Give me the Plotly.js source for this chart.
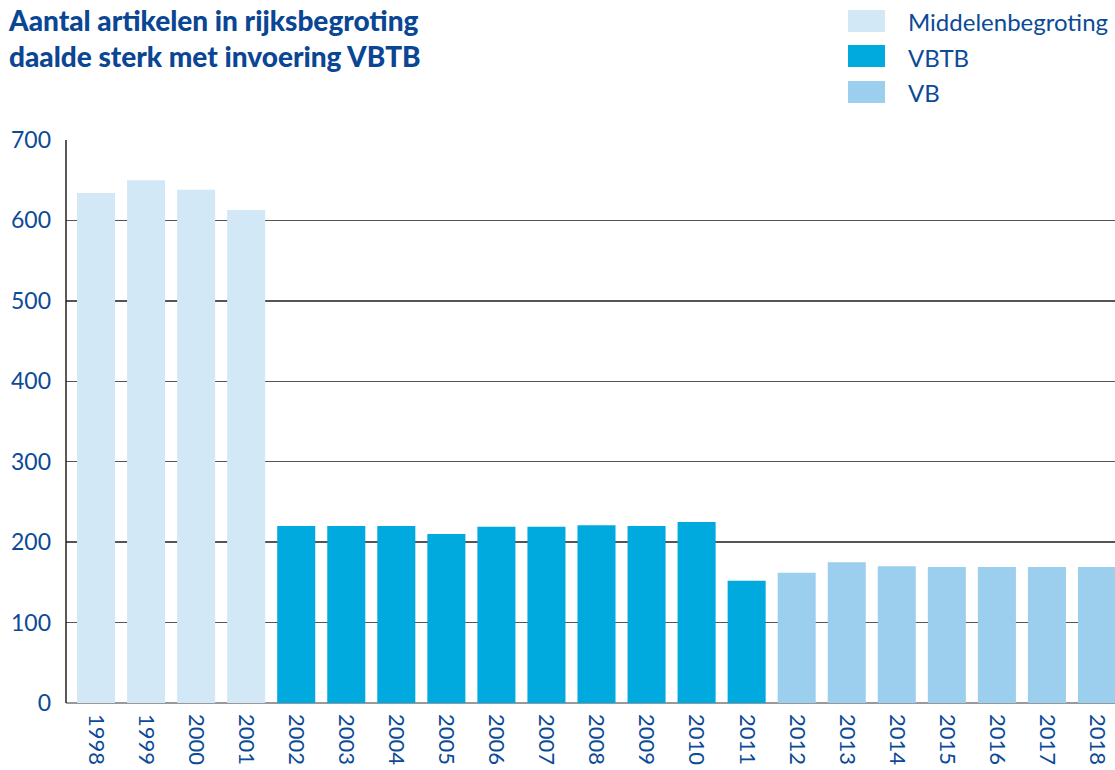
<!DOCTYPE html>
<html><head><meta charset="utf-8">
<script src="https://cdn.plot.ly/plotly-3.0.1.min.js"></script>
<style>body{margin:0;background:#fff}#chart{width:1115px;height:770px}</style>
</head><body><div id="chart"></div>
<script>
var years = ["1998","1999","2000","2001","2002","2003","2004","2005","2006","2007","2008","2009","2010","2011","2012","2013","2014","2015","2016","2017","2018"];
var middelenYears = ["1998","1999","2000","2001"];
var middelenValues = [634, 650, 638, 613];
var vbtbYears = ["2002","2003","2004","2005","2006","2007","2008","2009","2010","2011"];
var vbtbValues = [220, 220, 220, 210, 219, 219, 221, 220, 225, 152];
var vbYears = ["2012","2013","2014","2015","2016","2017","2018"];
var vbValues = [162, 175, 170, 169, 169, 169, 169];
var seriesNames = ["Middelenbegroting", "VBTB", "VB"];
var colors = ["#d3e8f7", "#00aadf", "#9ccfee"];
var yTicks = [0,100,200,300,400,500,600,700];
var titleText = "Aantal artikelen in rijksbegroting<br>daalde sterk met invoering VBTB";

var textBlue = "#0b4a96";
var fontFam = "Lato, 'Open Sans', sans-serif";

var traces = [
  {x: middelenYears, y: middelenValues},
  {x: vbtbYears, y: vbtbValues},
  {x: vbYears, y: vbValues}
].map(function(t, i){
  return {type:'bar', x:t.x, y:t.y, name:seriesNames[i], marker:{color:colors[i]}, showlegend:false, hoverinfo:'x+y'};
});

// plot area pixels
var L = 66, R = 1115, T = 140, B = 703;
function px(x){ return (x - L) / (R - L); }
function py(y){ return (B - y) / (B - T); }

var shapes = [], annotations = [];
var legendTops = [10, 45, 81];
seriesNames.forEach(function(n, i){
  shapes.push({type:'rect', xref:'paper', yref:'paper', x0:px(848), x1:px(885), y0:py(legendTops[i]+22), y1:py(legendTops[i]), fillcolor:colors[i], line:{width:0}, layer:'above'});
  annotations.push({xref:'paper', yref:'paper', x:px(906), y:py(legendTops[i]+12), xanchor:'left', yanchor:'middle', text:n, showarrow:false, font:{family:fontFam, size:24, color:textBlue}});
});
annotations.push({xref:'paper', yref:'paper', x:px(6), y:py(1), xanchor:'left', yanchor:'top', align:'left', text:titleText, showarrow:false, font:{family:fontFam, size:28, weight:900, color:'#0a4694'}});
// left axis line
shapes.push({type:'line', xref:'paper', yref:'paper', x0:0, x1:0, y0:0, y1:1, line:{color:'#222', width:1.5}});

var layout = {
  width:1115, height:770,
  margin:{l:L, r:1115-R, t:T, b:770-B, pad:0},
  paper_bgcolor:'#fff', plot_bgcolor:'#fff',
  bargap:0.24,
  xaxis:{type:'category', categoryorder:'array', categoryarray:years, range:[-0.6, 20.36], tickangle:90, showgrid:false, showline:false, zeroline:false, ticks:'', ticklabelstandoff:10, tickfont:{family:fontFam, size:22, color:textBlue}},
  yaxis:{range:[0,700], tickvals:yTicks, showgrid:true, gridcolor:'#555', gridwidth:1.5, zeroline:true, zerolinecolor:'#999', zerolinewidth:2, showline:false, ticks:'', ticklabelstandoff:14, tickfont:{family:fontFam, size:23, color:textBlue}},
  shapes:shapes,
  annotations:annotations
};
Plotly.newPlot('chart', traces, layout, {displayModeBar:false, staticPlot:true});
</script></body></html>
